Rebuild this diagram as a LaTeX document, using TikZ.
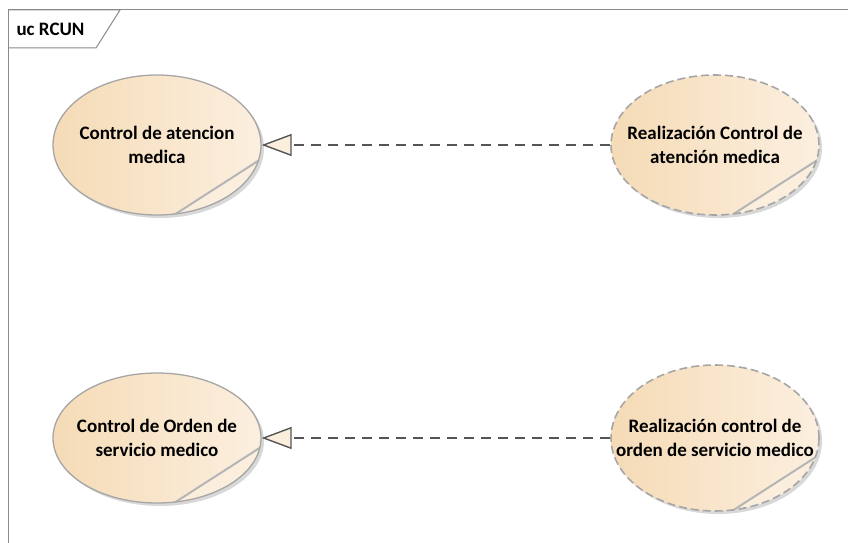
\documentclass[tikz,border=0pt]{standalone}
\usepackage{fontspec}
\setmainfont{Carlito}
\usetikzlibrary{shapes.geometric,arrows.meta,shadows}
\definecolor{ucleft}{HTML}{F5DBB6}
\definecolor{ucright}{HTML}{FCEFDF}
\definecolor{ucborder}{HTML}{A6A6A6}
\definecolor{foldfill}{HTML}{FBEEDC}
\definecolor{foldline}{HTML}{B5B5B5}
\definecolor{linecol}{HTML}{555555}
\definecolor{framecol}{HTML}{8A8A8A}

\begin{document}
\begin{tikzpicture}[x=1pt,y=-1pt,node distance=558pt,
                    font=\bfseries\fontsize{19}{24}\selectfont]
  \tikzstyle{usecase}=[ellipse,draw=ucborder,line width=1.3pt,
    left color=ucleft,right color=ucright,
    minimum width=208pt,minimum height=140pt,
    inner xsep=-45pt,inner ysep=-14pt,align=center,
    drop shadow={shadow xshift=3pt,shadow yshift=-3pt,fill=black!30},
    path picture={
      \fill[foldfill] ([xshift=-87pt]path picture bounding box.south east)
        -- ([yshift=56pt]path picture bounding box.south east)
        -- (path picture bounding box.south east) -- cycle;
      \draw[foldline,solid,line width=2pt]
        ([xshift=-87pt]path picture bounding box.south east)
        -- ([yshift=56pt]path picture bounding box.south east);}]
  \tikzstyle{realization}=[usecase,line width=1.6pt,dash pattern=on 8pt off 4pt]
  \tikzstyle{realize}=[draw=linecol,line width=1.6pt,dash pattern=on 10pt off 7pt,
    -{Triangle[length=30pt,width=22pt,fill=foldfill,line width=1.4pt]}]

  \useasboundingbox (0,0) rectangle (848,543);

  % frame
  \draw[framecol,line width=1pt] (8,543) -- (8,10) -- (848,10);
  \draw[framecol,line width=1pt] (8,10) -- (120,10) -- (96,48) -- (8,48);
  \node[anchor=west] (frame) at (13,29) {uc RCUN};

  \node[usecase]     (A) at (157,145) {Control de atencion\\medica};
  \node[realization] (B) [right of=A] {Realización Control de\\atención medica};
  \node[usecase,minimum height=130pt] (C) [below of=A,node distance=293pt]
                     {Control de Orden de\\servicio medico};
  \node[realization,minimum height=146pt] (D) [right of=C]
                     {Realización control de\\orden de servicio medico};

  \path (B) edge[realize] (A)
        (D) edge[realize] (C);
\end{tikzpicture}
\end{document}
